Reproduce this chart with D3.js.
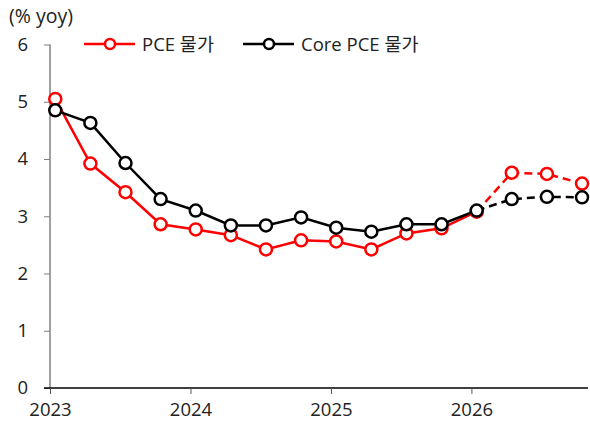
<!DOCTYPE html>
<html>
<head>
<meta charset="utf-8">
<script src="https://cdn.jsdelivr.net/npm/d3@7"></script>
<style>
  body { margin: 0; background: #fff; }
  text { font-family: "Open Sans", "Noto Sans CJK KR", sans-serif; fill: #222; }
</style>
</head>
<body>
<script>
var width = 590,
  height = 425;

// quarterly points, placed mid-month (Jan, Apr, Jul, Oct)
var quarters = [
  "2023-01", "2023-04", "2023-07", "2023-10",
  "2024-01", "2024-04", "2024-07", "2024-10",
  "2025-01", "2025-04", "2025-07", "2025-10",
  "2026-01", "2026-04", "2026-07", "2026-10"
];
var pce = [5.05, 3.92, 3.42, 2.86, 2.77, 2.67, 2.42, 2.58, 2.56, 2.42, 2.70, 2.79, 3.08, 3.76, 3.74, 3.57];
var corePce = [4.85, 4.63, 3.93, 3.30, 3.10, 2.84, 2.84, 2.98, 2.80, 2.73, 2.86, 2.86, 3.10, 3.30, 3.34, 3.33];
var forecastFrom = 12; // 2026Q1 onward dashed
var yTicks = [0, 1, 2, 3, 4, 5, 6];
var xTicks = [2023, 2024, 2025, 2026];

var seriesList = [
  { name: "PCE 물가", values: pce, color: "#ff0000" },
  { name: "Core PCE 물가", values: corePce, color: "#000000" }
];

function toYear(q) {
  var p = q.split("-");
  return +p[0] + (+p[1] - 1 + 0.45) / 12;
}

var svg = d3.select("body").append("svg")
  .attr("width", width)
  .attr("height", height);

var x = d3.scaleLinear().domain([2023, 2026.83]).range([50, 588]);
var y = d3.scaleLinear().domain([0, 6]).range([388, 44.5]);

// y axis
var yAxis = svg.append("g").attr("transform", "translate(50,0)")
  .call(d3.axisLeft(y).tickValues(yTicks).tickFormat(d3.format("d")).tickSize(6).tickPadding(16));
yAxis.select(".domain").attr("stroke", "#808080").attr("stroke-width", 1.5)
  .attr("d", "M0," + y(6) + "V" + y(0));
yAxis.selectAll(".tick line").attr("stroke", "#808080");
yAxis.selectAll(".tick text").style("font-size", "18.5px").attr("fill", "#222");

// x axis
var xAxis = svg.append("g").attr("transform", "translate(0,388)")
  .call(d3.axisBottom(x).tickValues(xTicks).tickFormat(d3.format("d")).tickSize(6).tickPadding(9));
xAxis.select(".domain").attr("stroke", "#000").attr("stroke-width", 1.5)
  .attr("d", "M44,0H588");
xAxis.selectAll(".tick line").attr("stroke", "#555");
xAxis.selectAll(".tick text").style("font-size", "18.5px").attr("fill", "#222");

svg.append("text").attr("x", 9).attr("y", 23)
  .style("font-size", "19.5px").text("(% yoy)");

var line = d3.line()
  .x(function (d) { return x(toYear(d.q)); })
  .y(function (d) { return y(d.v); });

seriesList.forEach(function (s) {
  var pts = s.values.map(function (v, i) { return { q: quarters[i], v: v }; });
  svg.append("path").datum(pts.slice(0, forecastFrom + 1))
    .attr("fill", "none").attr("stroke", s.color).attr("stroke-width", 2.5)
    .attr("d", line);
  svg.append("path").datum(pts.slice(forecastFrom))
    .attr("fill", "none").attr("stroke", s.color).attr("stroke-width", 2.5)
    .attr("stroke-dasharray", "8,5")
    .attr("d", line);
  s.pts = pts;
});

seriesList.forEach(function (s) {
  svg.append("g").selectAll("circle").data(s.pts).enter().append("circle")
    .attr("cx", function (d) { return x(toYear(d.q)); })
    .attr("cy", function (d) { return y(d.v); })
    .attr("r", 6)
    .attr("fill", "#fff")
    .attr("stroke", s.color)
    .attr("stroke-width", 2.5);
});

// legend
var legendX = [84, 243];
seriesList.forEach(function (s, i) {
  var g = svg.append("g").attr("transform", "translate(" + legendX[i] + ",44)");
  g.append("line").attr("x1", 0).attr("x2", 51).attr("y1", 0).attr("y2", 0)
    .attr("stroke", s.color).attr("stroke-width", 2.5);
  g.append("circle").attr("cx", 26).attr("cy", 0).attr("r", 5)
    .attr("fill", "#fff").attr("stroke", s.color).attr("stroke-width", 2.5);
  g.append("text").attr("x", 58).attr("y", 6.5)
    .style("font-size", "18.5px").text(s.name);
});
</script>
</body>
</html>
